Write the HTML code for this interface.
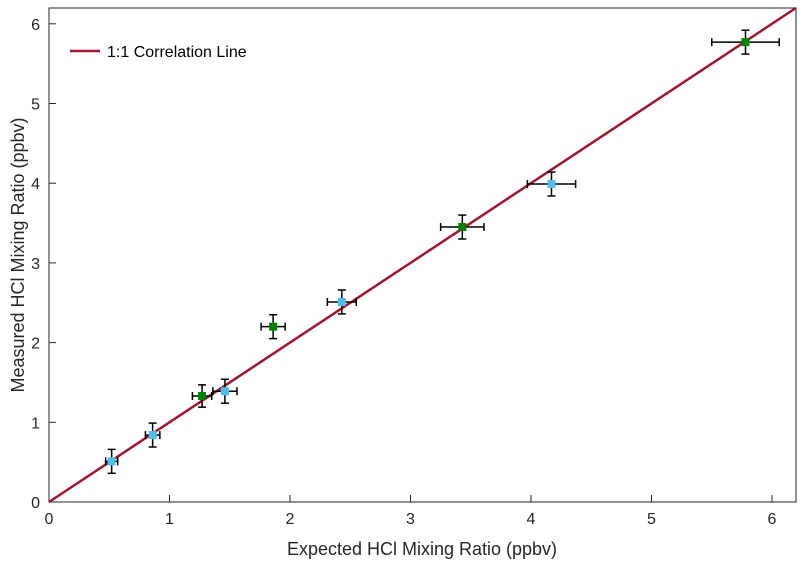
<!DOCTYPE html>
<html><head><meta charset="utf-8"><style>
body{margin:0;background:#fff;}
svg{display:block;font-family:"Liberation Sans",Arial,sans-serif;}
</style></head><body>
<svg id="chart" width="804" height="567">
<rect x="49" y="8" width="747" height="494" fill="#fff" stroke="#262626" stroke-width="1"/>
<g id="ticks"></g>
<g id="marks"></g>
<text x="422" y="555" font-size="18" text-anchor="middle" fill="#262626">Expected HCl Mixing Ratio (ppbv)</text>
<text transform="translate(24,255) rotate(-90)" font-size="18" text-anchor="middle" fill="#262626">Measured HCl Mixing Ratio (ppbv)</text>
<g>
<line x1="70" y1="51" x2="100" y2="51" stroke="#A2142F" stroke-width="2.5"/>
<text x="107" y="57" font-size="16" fill="#000">1:1 Correlation Line</text>
</g>
</svg>
<script>
const xVals=[0.52,0.86,1.27,1.46,1.86,2.43,3.43,4.17,5.78];
const yVals=[0.51,0.84,1.33,1.39,2.20,2.51,3.45,3.99,5.77];
const xErr=[0.05,0.06,0.08,0.10,0.10,0.12,0.18,0.20,0.28];
const yErr=[0.15,0.15,0.14,0.15,0.15,0.15,0.15,0.15,0.15];
const groups=["b","b","g","b","g","b","g","b","g"];
const xTicks=[0,1,2,3,4,5,6];
const yTicks=[0,1,2,3,4,5,6];
const X=v=>49+v*120.5, Y=v=>502-v*79.7;
const NS="http://www.w3.org/2000/svg";
const tk=document.getElementById('ticks'), mk=document.getElementById('marks');
function el(p,t,a){const e=document.createElementNS(NS,t);for(const k in a)e.setAttribute(k,a[k]);p.appendChild(e);return e;}
xTicks.forEach(v=>{
 const l=el(tk,'line',{x1:X(v),x2:X(v),y1:502,y2:495,stroke:'#262626'});
 
 
 const t=el(tk,'text',{x:X(v),y:524,'font-size':16,'text-anchor':'middle',fill:'#262626'});t.textContent=v;
 
 
});
yTicks.forEach(v=>{
 const l=el(tk,'line',{x1:49,x2:56,y1:Y(v),y2:Y(v),stroke:'#262626'});
 
 
 const t=el(tk,'text',{x:40,y:Y(v)+6,'font-size':16,'text-anchor':'end',fill:'#262626'});t.textContent=v;
 
 
});
const ln=el(mk,'line',{x1:X(0),y1:Y(0),x2:X(6.2),y2:Y(6.2),stroke:'#A2142F','stroke-width':2.5});


xVals.forEach((xv,i)=>{
 const g=el(mk,'g',{stroke:'#000','stroke-width':1.5});
 
 
 const cx=X(xv),cy=Y(yVals[i]),x1=X(xv-xErr[i]),x2=X(xv+xErr[i]),y1=Y(yVals[i]+yErr[i]),y2=Y(yVals[i]-yErr[i]);
 el(g,'line',{x1:x1,x2:x2,y1:cy,y2:cy});
 el(g,'line',{x1:x1,x2:x1,y1:cy-4,y2:cy+4});
 el(g,'line',{x1:x2,x2:x2,y1:cy-4,y2:cy+4});
 el(g,'line',{x1:cx,x2:cx,y1:y1,y2:y2});
 el(g,'line',{x1:cx-4,x2:cx+4,y1:y1,y2:y1});
 el(g,'line',{x1:cx-4,x2:cx+4,y1:y2,y2:y2});
 el(g,'rect',{x:cx-4,y:cy-4,width:8,height:8,fill:groups[i]=="g"?'#008000':'#4DBEEE',stroke:'none'});
});
</script>
</body></html>
